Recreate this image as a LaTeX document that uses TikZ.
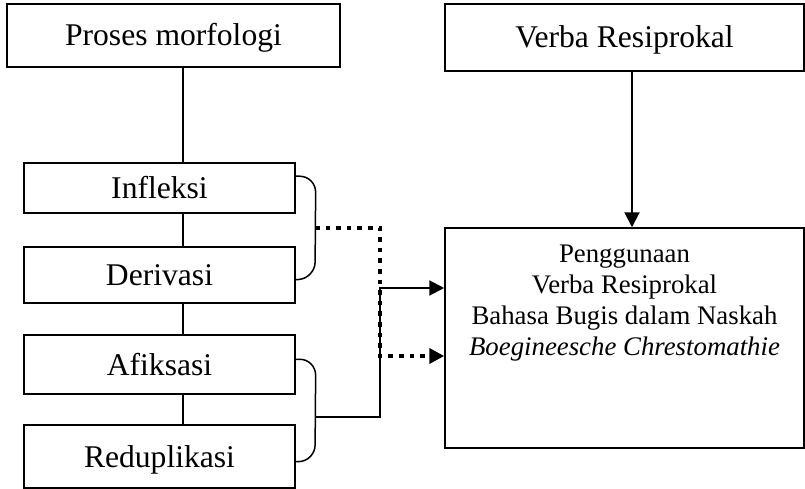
\documentclass[tikz,border=0pt]{standalone}
\usepackage{fontspec}
\setmainfont{Liberation Serif}
\usetikzlibrary{arrows.meta}
\begin{document}
\begin{tikzpicture}[x=1pt,y=-1pt,
  box/.style={draw,line width=1.5pt,rectangle,inner sep=0pt,
    font=\fontsize{31.6}{36}\selectfont,text height=21pt,text depth=0pt},
  thin line/.style={line width=1.4pt},
  brace line/.style={line width=1.5pt,rounded corners=16pt},
  solid arrow/.style={line width=2pt,-{Triangle[length=15pt,width=15pt]}},
  dot arrow/.style={line width=4.6pt,dash pattern=on 4.6pt off 6pt,
    -{Triangle[length=15pt,width=15pt]}}]
\useasboundingbox (0,0) rectangle (805,489);
\node[box,minimum width=333pt,minimum height=63pt] (proses) at (173.5,35.5) {Proses morfologi};
\node[box,minimum width=359pt,minimum height=67pt] (verba) at (624.5,37.5) {Verba Resiprokal};
\node[box,minimum width=271pt,minimum height=50pt] (infleksi) at (159.5,188) {Infleksi};
\node[box,minimum width=271pt,minimum height=56pt] (derivasi) at (159.5,275) {Derivasi};
\node[box,minimum width=271pt,minimum height=59pt] (afiksasi) at (159.5,364.5) {Afiksasi};
\node[box,minimum width=271pt,minimum height=63pt] (redup) at (159.5,456.5) {Reduplikasi};
\node[draw,line width=1.5pt,rectangle,minimum width=359pt,minimum height=220pt] (main) at (624.5,338) {};
\node[anchor=north,align=center,inner sep=0pt,
  font=\fontsize{26.8}{31}\selectfont] (maintext) at (624.5,244.3)
  {Penggunaan\\Verba Resiprokal\\Bahasa Bugis dalam Naskah\\\textit{Boegineesche Chrestomathie}};
% spine
\coordinate (spine) at (183,0);
\draw[thin line] (proses.south -| spine) -- (infleksi.north -| spine);
\draw[thin line] (infleksi.south -| spine) -- (derivasi.north -| spine);
\draw[thin line] (derivasi.south -| spine) -- (afiksasi.north -| spine);
\draw[thin line] (afiksasi.south -| spine) -- (redup.north -| spine);
% braces
\coordinate (b1top) at ([yshift=-14pt]infleksi.north east);
\coordinate (b1bot) at ([yshift=24pt]derivasi.south east);
\coordinate (b2top) at ([yshift=-25pt]afiksasi.north east);
\coordinate (b2bot) at ([yshift=27pt]redup.south east);
\draw[brace line] (b1top) -- ++(20,0) -- (315,278) -- (b1bot);
\draw[brace line] (b2top) -- ++(20,0) -- (315,461) -- (b2bot);
\coordinate (b1mid) at (315,228);
\coordinate (b2mid) at (315,417);
\coordinate (in1) at ([yshift=50pt]main.west);
\coordinate (in2) at ([yshift=-18pt]main.west);
% connectors
\draw[solid arrow] (b2mid) -- (380,417) -- (380,288) -- (in1);
\draw[dot arrow] (b1mid) -- (380,228) -- (380,356) -- (in2);
\draw[solid arrow] ([xshift=7.5pt]verba.south) -- ([xshift=7.5pt]main.north);
\end{tikzpicture}
\end{document}
